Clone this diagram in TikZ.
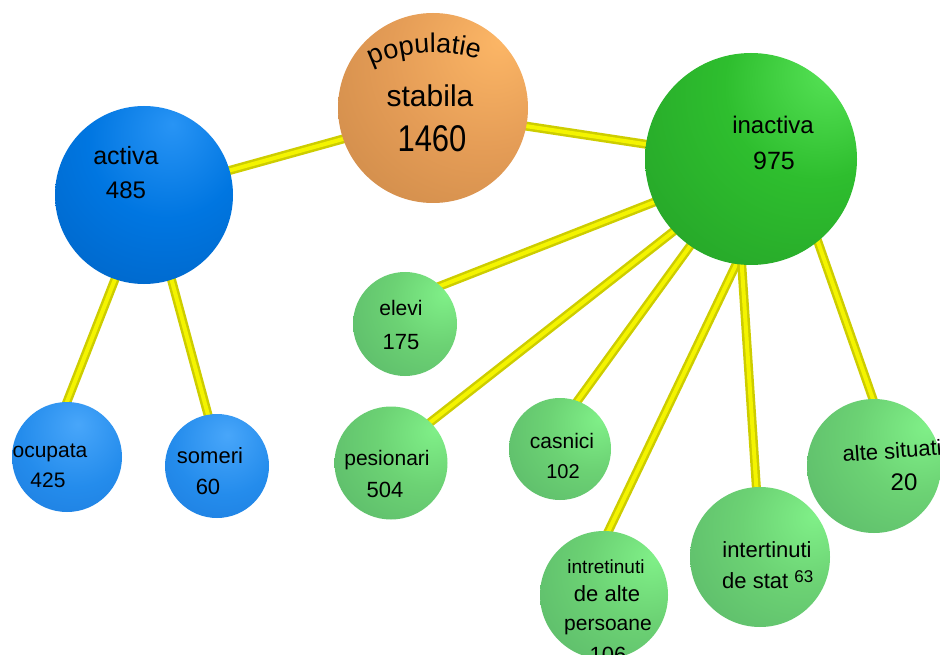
\documentclass[tikz,border=0pt]{standalone}
\usepackage{fontspec}
\setmainfont{Liberation Sans}
\usetikzlibrary{decorations.text,backgrounds}
\definecolor{oL}{RGB}{252,182,102}
\definecolor{oB}{RGB}{228,156,86}
\definecolor{oD}{RGB}{182,120,60}
\definecolor{bL}{RGB}{40,148,245}
\definecolor{bB}{RGB}{0,118,225}
\definecolor{bD}{RGB}{0,84,172}
\definecolor{cL}{RGB}{72,166,250}
\definecolor{cB}{RGB}{36,140,236}
\definecolor{cD}{RGB}{20,104,204}
\definecolor{gL}{RGB}{88,228,88}
\definecolor{gB}{RGB}{46,190,46}
\definecolor{gD}{RGB}{30,140,36}
\definecolor{hL}{RGB}{128,240,136}
\definecolor{hB}{RGB}{108,210,116}
\definecolor{hD}{RGB}{76,162,96}
\definecolor{yD}{RGB}{205,205,0}
\definecolor{yL}{RGB}{244,244,0}
\pgfdeclareradialshading{shOrange}{\pgfpoint{18bp}{18bp}}{color(0bp)=(oL);color(25bp)=(oB);color(72bp)=(oD);color(100bp)=(oD)}
\pgfdeclareradialshading{shBlue}{\pgfpoint{8bp}{20bp}}{color(0bp)=(bL);color(22bp)=(bB);color(70bp)=(bD);color(100bp)=(bD)}
\pgfdeclareradialshading{shBlueL}{\pgfpoint{5bp}{15bp}}{color(0bp)=(cL);color(25bp)=(cB);color(72bp)=(cD);color(100bp)=(cD)}
\pgfdeclareradialshading{shGreen}{\pgfpoint{20bp}{22bp}}{color(0bp)=(gL);color(22bp)=(gB);color(72bp)=(gD);color(100bp)=(gD)}
\pgfdeclareradialshading{shGreenL}{\pgfpoint{20bp}{15bp}}{color(0bp)=(hL);color(22bp)=(hB);color(72bp)=(hD);color(100bp)=(hD)}
\tikzset{
  orb/.style={circle, inner sep=0pt, shade, shading=#1},
  txt/.style={inner sep=0pt, anchor=base, font=\fontsize{22}{22}\selectfont},
  link/.style={line width=9pt, yD, shorten <=-6pt, shorten >=-6pt},
  linkhi/.style={line width=4pt, yL, shorten <=-6pt, shorten >=-6pt}
}
\begin{document}
\begin{tikzpicture}[x=1pt,y=-1pt]
\useasboundingbox (0,0) rectangle (940,655);
\clip (0,0) rectangle (940,655);
% spheres
\node[orb=shOrange, minimum size=190pt] (pop) at (433,108) {};
\node[orb=shBlue, minimum size=178pt] (act) at (144,195) {};
\node[orb=shGreen, minimum size=212pt] (inact) at (751,159) {};
\node[orb=shBlueL, minimum size=110pt] (ocu) at (67,457) {};
\node[orb=shBlueL, minimum size=104pt] (som) at (217,466) {};
\node[orb=shGreenL, minimum size=104pt] (elev) at (405,324) {};
\node[orb=shGreenL, minimum size=113pt] (pes) at (391,463) {};
\node[orb=shGreenL, minimum size=102pt] (cas) at (560,449) {};
\node[orb=shGreenL, minimum size=128pt] (intalte) at (604,595) {};
\node[orb=shGreenL, minimum size=140pt] (intstat) at (760,557) {};
\node[orb=shGreenL, minimum size=134pt] (alte) at (874,466) {};
% connectors
\begin{scope}[on background layer]
\fill[white] (0,0) rectangle (940,655);
\foreach \a/\aa/\b/\bb in {act/16/pop/199, pop/349/inact/172, inact/204/elev/47,
  inact/223/pes/46, inact/235/cas/70, inact/262/intalte/86, inact/265/intstat/93,
  inact/309/alte/91, act/251/ocu/90, act/288/som/100}{
  \draw[link] (\a.\aa) -- (\b.\bb);
  \draw[linkhi] (\a.\aa) -- (\b.\bb);
}
\end{scope}
% texts
\path[decorate, decoration={text along path, text align=center,
  text={|\fontsize{27}{27}\selectfont|populatie}}]
  (356,76) .. controls (392,48) and (455,46) .. (496,66);
\node[txt, font=\fontsize{30}{30}\selectfont] (popT2) at (430,107) {stabila};
\node[txt, font=\fontsize{31}{31}\selectfont] (popT3) at (432,152) {\scalebox{1}[1.2]{1460}};
\node[txt, font=\fontsize{25}{25}\selectfont] (actT1) at (126,165) {activa};
\node[txt, font=\fontsize{24}{24}\selectfont] (actT2) at (126,199) {485};
\node[txt, font=\fontsize{24}{24}\selectfont] (inT1) at (773,134) {inactiva};
\node[txt, font=\fontsize{25}{25}\selectfont] (inT2) at (774,170) {975};
\node[txt, font=\fontsize{21}{21}\selectfont] (elT1) at (401,316) {elevi};
\node[txt] (elT2) at (401,349) {175};
\node[txt, font=\fontsize{21}{21}\selectfont] (peT1) at (387,465) {pesionari};
\node[txt] (peT2) at (385,497) {504};
\begin{scope}
\path[clip] (ocu.center) circle[radius=55pt];
\node[txt, font=\fontsize{21}{21}\selectfont] (ocT1) at (50,457) {ocupata};
\end{scope}
\node[txt, font=\fontsize{21}{21}\selectfont] (ocT2) at (48,487) {425};
\node[txt] (soT1) at (210,463) {someri};
\node[txt] (soT2) at (208,494) {60};
\node[txt, font=\fontsize{21}{21}\selectfont] (caT1) at (562,448) {casnici};
\node[txt, font=\fontsize{20}{20}\selectfont] (caT2) at (563,478) {102};
\node[txt, font=\fontsize{19}{19}\selectfont] (iaT1) at (606,573) {intretinuti};
\node[txt] (iaT2) at (607,601) {de alte};
\node[txt, font=\fontsize{21}{21}\selectfont] (iaT3) at (608,630) {persoane};
\node[txt] (iaT4) at (608,662) {106};
\node[txt] (isT1) at (767,557) {intertinuti};
\node[txt, anchor=base west] (isT2) at (722,588) {de stat \raisebox{6pt}{\fontsize{17}{17}\selectfont 63}};
\node[txt, anchor=base west, rotate=4] (alT1) at (843,462) {alte situatii};
\node[txt, font=\fontsize{24}{24}\selectfont] (alT2) at (904,490) {20};
\end{tikzpicture}
\end{document}
